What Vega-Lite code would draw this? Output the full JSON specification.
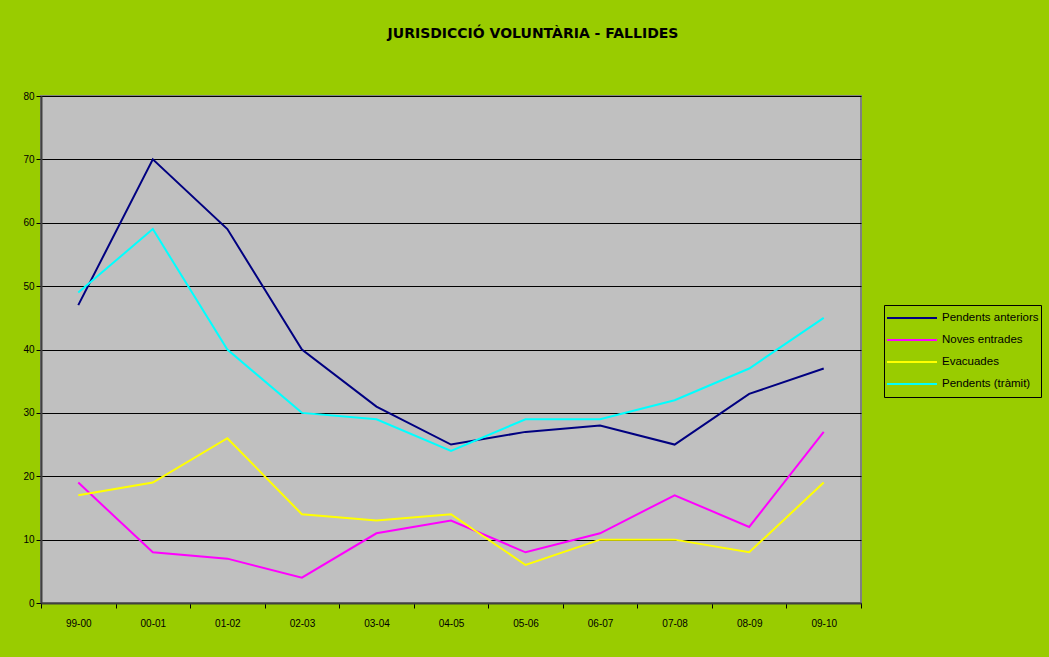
{
  "$schema": "https://vega.github.io/schema/vega-lite/v6.json",
  "width": 820,
  "height": 507,
  "autosize": {"type": "none"},
  "padding": {"left": 41, "top": 96, "right": 188, "bottom": 54},
  "background": "#99CC00",
  "config": {
    "font": "Liberation Sans",
    "view": {"fill": "#C0C0C0", "stroke": "#808080", "strokeWidth": 2}
  },
  "title": {
    "text": "JURISDICCIÓ VOLUNTÀRIA - FALLIDES",
    "fontSize": 14,
    "fontWeight": "bold",
    "font": "DejaVu Sans",
    "color": "#000000",
    "anchor": "middle",
    "dx": 82,
    "offset": 50
  },
  "data": {
    "values": [
      {"any": "99-00", "serie": "Pendents anteriors", "valor": 47},
      {"any": "00-01", "serie": "Pendents anteriors", "valor": 70},
      {"any": "01-02", "serie": "Pendents anteriors", "valor": 59},
      {"any": "02-03", "serie": "Pendents anteriors", "valor": 40},
      {"any": "03-04", "serie": "Pendents anteriors", "valor": 31},
      {"any": "04-05", "serie": "Pendents anteriors", "valor": 25},
      {"any": "05-06", "serie": "Pendents anteriors", "valor": 27},
      {"any": "06-07", "serie": "Pendents anteriors", "valor": 28},
      {"any": "07-08", "serie": "Pendents anteriors", "valor": 25},
      {"any": "08-09", "serie": "Pendents anteriors", "valor": 33},
      {"any": "09-10", "serie": "Pendents anteriors", "valor": 37},
      {"any": "99-00", "serie": "Noves entrades", "valor": 19},
      {"any": "00-01", "serie": "Noves entrades", "valor": 8},
      {"any": "01-02", "serie": "Noves entrades", "valor": 7},
      {"any": "02-03", "serie": "Noves entrades", "valor": 4},
      {"any": "03-04", "serie": "Noves entrades", "valor": 11},
      {"any": "04-05", "serie": "Noves entrades", "valor": 13},
      {"any": "05-06", "serie": "Noves entrades", "valor": 8},
      {"any": "06-07", "serie": "Noves entrades", "valor": 11},
      {"any": "07-08", "serie": "Noves entrades", "valor": 17},
      {"any": "08-09", "serie": "Noves entrades", "valor": 12},
      {"any": "09-10", "serie": "Noves entrades", "valor": 27},
      {"any": "99-00", "serie": "Evacuades", "valor": 17},
      {"any": "00-01", "serie": "Evacuades", "valor": 19},
      {"any": "01-02", "serie": "Evacuades", "valor": 26},
      {"any": "02-03", "serie": "Evacuades", "valor": 14},
      {"any": "03-04", "serie": "Evacuades", "valor": 13},
      {"any": "04-05", "serie": "Evacuades", "valor": 14},
      {"any": "05-06", "serie": "Evacuades", "valor": 6},
      {"any": "06-07", "serie": "Evacuades", "valor": 10},
      {"any": "07-08", "serie": "Evacuades", "valor": 10},
      {"any": "08-09", "serie": "Evacuades", "valor": 8},
      {"any": "09-10", "serie": "Evacuades", "valor": 19},
      {"any": "99-00", "serie": "Pendents (tràmit)", "valor": 49},
      {"any": "00-01", "serie": "Pendents (tràmit)", "valor": 59},
      {"any": "01-02", "serie": "Pendents (tràmit)", "valor": 40},
      {"any": "02-03", "serie": "Pendents (tràmit)", "valor": 30},
      {"any": "03-04", "serie": "Pendents (tràmit)", "valor": 29},
      {"any": "04-05", "serie": "Pendents (tràmit)", "valor": 24},
      {"any": "05-06", "serie": "Pendents (tràmit)", "valor": 29},
      {"any": "06-07", "serie": "Pendents (tràmit)", "valor": 29},
      {"any": "07-08", "serie": "Pendents (tràmit)", "valor": 32},
      {"any": "08-09", "serie": "Pendents (tràmit)", "valor": 37},
      {"any": "09-10", "serie": "Pendents (tràmit)", "valor": 45}
    ]
  },
  "mark": {"type": "line", "strokeWidth": 2},
  "encoding": {
    "x": {
      "field": "any",
      "type": "ordinal",
      "sort": null,
      "scale": {"type": "band", "paddingInner": 0, "paddingOuter": 0},
      "axis": {
        "title": null,
        "labelAngle": 0,
        "labelFontSize": 10,
        "labelColor": "#000000",
        "labelPadding": 10,
        "tickBand": "extent",
        "tickSize": 5,
        "tickColor": "#000000",
        "domainColor": "#404040",
        "domainWidth": 2,
        "grid": false
      }
    },
    "y": {
      "field": "valor",
      "type": "quantitative",
      "scale": {"domain": [0, 80], "nice": false},
      "axis": {
        "title": null,
        "values": [0, 10, 20, 30, 40, 50, 60, 70, 80],
        "labelFontSize": 10,
        "labelColor": "#000000",
        "labelPadding": 2,
        "tickSize": 5,
        "tickColor": "#000000",
        "domainColor": "#404040",
        "domainWidth": 2,
        "grid": true,
        "gridColor": "#000000",
        "gridWidth": 1,
        "gridOpacity": 1
      }
    },
    "color": {
      "field": "serie",
      "type": "nominal",
      "sort": ["Pendents anteriors", "Noves entrades", "Evacuades", "Pendents (tràmit)"],
      "scale": {
        "domain": ["Pendents anteriors", "Noves entrades", "Evacuades", "Pendents (tràmit)"],
        "range": ["#000080", "#FF00FF", "#FFFF00", "#00FFFF"]
      },
      "legend": {
        "title": null,
        "orient": "none",
        "legendX": 843,
        "legendY": 209,
        "symbolType": "stroke",
        "symbolSize": 2500,
        "symbolStrokeWidth": 2,
        "clipHeight": 22,
        "labelFontSize": 11.5,
        "labelOffset": 4,
        "labelColor": "#000000",
        "rowPadding": 0,
        "padding": 2,
        "strokeColor": "#000000",
        "fillColor": "#99CC00"
      }
    }
  }
}
